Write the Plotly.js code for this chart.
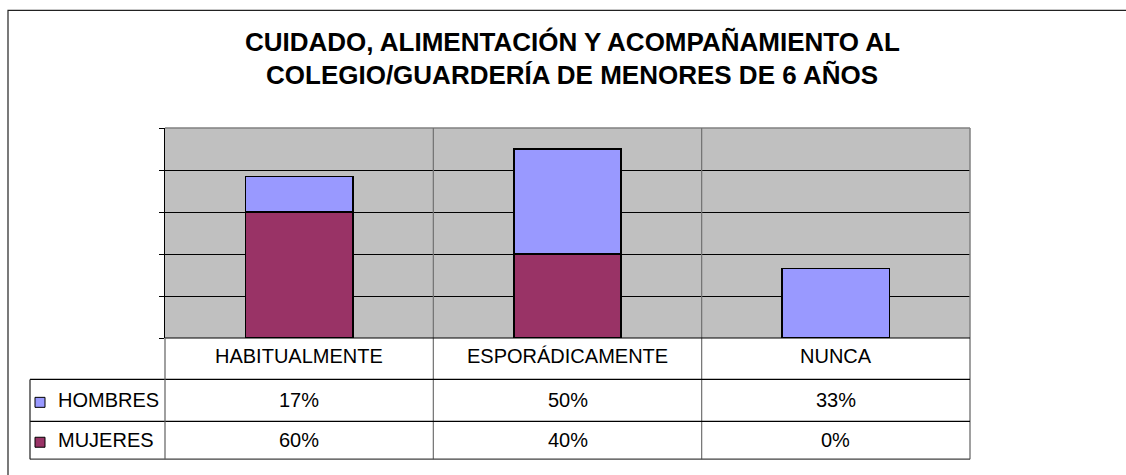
<!DOCTYPE html>
<html>
<head>
<meta charset="utf-8">
<script src="https://cdn.plot.ly/plotly-3.0.1.min.js"></script>
<style>html,body{margin:0;padding:0;background:#fff;}#chart{width:1126px;height:475px;}</style>
</head>
<body>
<div id="chart"></div>
<script>
var categories = ['HABITUALMENTE', 'ESPORÁDICAMENTE', 'NUNCA'];
var hombres = [17, 50, 33];
var mujeres = [60, 40, 0];
var seriesNames = ['HOMBRES', 'MUJERES'];
var titleLines = ['CUIDADO, ALIMENTACIÓN Y ACOMPAÑAMIENTO AL', 'COLEGIO/GUARDERÍA DE MENORES DE 6 AÑOS'];

var W = 1126, H = 475;
var L = 165, R = 970, T = 128, B = 338.5;
function px(x) { return (x - L) / (R - L); }
function py(y) { return (B - y) / (B - T); }

var colH = '#9999FF', colM = '#993366';
var font = 'Liberation Sans, Arial, sans-serif';

var traces = [
  {type: 'bar', name: seriesNames[1], x: categories, y: mujeres,
   marker: {color: colM, line: {color: '#000', width: 1.5}}},
  {type: 'bar', name: seriesNames[0], x: categories, y: hombres,
   marker: {color: colH, line: {color: '#000', width: 1.5}}}
];

var shapes = [];
function line(x0, y0, x1, y1, c, w) {
  shapes.push({type: 'line', xref: 'paper', yref: 'paper', x0: px(x0), y0: py(y0), x1: px(x1), y1: py(y1),
    line: {color: c, width: w || 1}, layer: 'above'});
}
// outer frame
shapes.push({type: 'rect', xref: 'paper', yref: 'paper', x0: px(8), y0: py(10), x1: px(1140), y1: py(490),
  line: {color: '#222', width: 1.2}, layer: 'below'});
// plot frame top/right
line(L, T, R, T, '#808080', 1.5);
line(R, T, R, 460, '#808080', 1.5);
// category dividers
var colEdges = [L, L + (R - L) / 3, L + 2 * (R - L) / 3, R];
line(colEdges[1], T, colEdges[1], 460, '#707070', 1.2);
line(colEdges[2], T, colEdges[2], 460, '#707070', 1.2);
// table lines
line(L, 338.5, R, 338.5, '#000', 1.2);
line(30, 380, R, 380, '#000', 1.2);
line(30, 422, R, 422, '#000', 1.2);
line(30, 460, R, 460, '#404040', 1.2);
line(30, 380, 30, 460, '#202020', 1.2);
line(L, 338.5, L, 460, '#606060', 1.2);
// legend keys
function key(y, c) {
  shapes.push({type: 'rect', xref: 'paper', yref: 'paper', x0: px(35), x1: px(45), y0: py(y + 5), y1: py(y - 5),
    fillcolor: c, line: {color: '#000', width: 1}, layer: 'above'});
}
key(403, colH);
key(443, colM);

var ann = [];
function text(x, y, s, size, bold, anchor) {
  ann.push({xref: 'paper', yref: 'paper', x: px(x), y: py(y), text: bold ? '<b>' + s + '</b>' : s,
    showarrow: false, xanchor: anchor || 'center', yanchor: 'middle',
    font: {family: font, size: size, color: '#000'}});
}
text(572, 41.5, titleLines[0], 26, true);
text(572, 74.5, titleLines[1], 26, true);
for (var i = 0; i < categories.length; i++) {
  var cx = (colEdges[i] + colEdges[i + 1]) / 2;
  text(cx, 357, categories[i], 20);
  text(cx, 401, hombres[i] + '%', 20);
  text(cx, 441, mujeres[i] + '%', 20);
}
text(56, 401, seriesNames[0], 20, false, 'left');
text(56, 441, seriesNames[1], 20, false, 'left');

var layout = {
  width: W, height: H,
  margin: {l: L, r: W - R, t: T, b: H - B, pad: 0},
  paper_bgcolor: '#fff', plot_bgcolor: '#C0C0C0',
  barmode: 'stack', bargap: 0.6,
  showlegend: false,
  xaxis: {range: [-0.5, 2.5], showticklabels: false, showgrid: false, zeroline: false, ticks: '', fixedrange: true},
  yaxis: {range: [0, 100], dtick: 20, showticklabels: false, showgrid: true, gridcolor: '#000', gridwidth: 1,
    zeroline: false, showline: true, linecolor: '#000', linewidth: 1.5, ticks: 'outside', ticklen: 5,
    tickcolor: '#000', tickwidth: 1},
  shapes: shapes,
  annotations: ann
};
Plotly.newPlot('chart', traces, layout, {staticPlot: true, displayModeBar: false});
</script>
</body>
</html>
